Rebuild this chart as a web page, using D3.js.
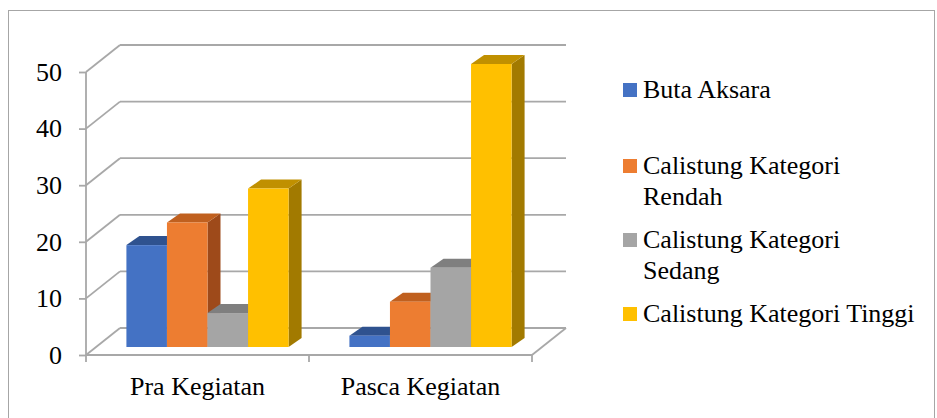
<!DOCTYPE html>
<html>
<head>
<meta charset="utf-8">
<script src="https://cdn.jsdelivr.net/npm/d3@7"></script>
</head>
<body style="margin:0">
<svg id="chart" width="937" height="418" style="display:block; font-family: 'Times New Roman';"></svg>
<script>
const categories = ["Pra Kegiatan", "Pasca Kegiatan"];
const seriesNames = ["Buta Aksara", "Calistung Kategori Rendah", "Calistung Kategori Sedang", "Calistung Kategori Tinggi"];
const legendLines = [["Buta Aksara"], ["Calistung Kategori", "Rendah"], ["Calistung Kategori", "Sedang"], ["Calistung Kategori Tinggi"]];
const praValues = [18, 22, 6, 28];
const pascaValues = [2, 8, 14, 50];
const yTicks = [0, 10, 20, 30, 40, 50];

const colors = ["#4472C4", "#ED7D31", "#A5A5A5", "#FFC000"];
const topColors = ["#2F528F", "#C0601F", "#7F7F7F", "#C09000"];
const sideColors = ["#2A4A80", "#9E4A1A", "#707070", "#A27A00"];

const values = [praValues, pascaValues];
const FONT = '"Times New Roman"';
const FS = 26;

const svg = d3.select("#chart");

// outer frame
svg.append("rect")
    .attr("x", 8.5).attr("y", 10.5)
    .attr("width", 926).attr("height", 420)
    .attr("fill", "none").attr("stroke", "#A6A6A6");

const x = d3.scaleBand().domain(categories).range([86, 532]);
const xSub = d3.scaleBand().domain(seriesNames).range([0, x.bandwidth()]).paddingOuter(0.75);
const y = d3.scaleLinear().domain([0, 50]).range([355, 72]);

// wall depth and bar depth offsets
const wallDx = 34, wallDy = -27;
const barOffX = 10, barOffY = -8;
const barDx = 13, barDy = -9;

const grid = "#A8A8A8";
const g = svg.append("g");

// back wall gridlines + left wall diagonals
yTicks.forEach(t => {
    g.append("line")
        .attr("x1", 86 + wallDx).attr("x2", 532 + wallDx)
        .attr("y1", y(t) + wallDy).attr("y2", y(t) + wallDy)
        .attr("stroke", grid).attr("stroke-width", 1.8);
    g.append("line")
        .attr("x1", 86).attr("y1", y(t))
        .attr("x2", 86 + wallDx).attr("y2", y(t) + wallDy)
        .attr("stroke", grid).attr("stroke-width", 1.8);
});

// floor front edge and right edge
g.append("line").attr("x1", 86).attr("x2", 532).attr("y1", y(0)).attr("y2", y(0))
    .attr("stroke", grid).attr("stroke-width", 1.8);
g.append("line").attr("x1", 532).attr("y1", y(0)).attr("x2", 532 + wallDx).attr("y2", y(0) + wallDy)
    .attr("stroke", grid).attr("stroke-width", 1.8);

// front vertical axis line
g.append("line").attr("x1", 86).attr("x2", 86).attr("y1", y(50)).attr("y2", y(0))
    .attr("stroke", grid).attr("stroke-width", 1.8);

// y axis ticks and labels
const yAxis = svg.append("g").attr("transform", "translate(86,0)")
    .call(d3.axisLeft(y).tickValues(yTicks).tickSize(7).tickPadding(17));
yAxis.attr("font-family", null).attr("font-size", null);
yAxis.select(".domain").remove();
yAxis.selectAll(".tick line").attr("stroke", grid).attr("stroke-width", 1.8);
yAxis.selectAll(".tick text")
    .style("font-family", FONT).style("font-size", FS + "px").attr("fill", "#000");

// category ticks
const xTickPos = [86, 86 + x.step(), 532];
xTickPos.forEach(px => {
    g.append("line").attr("x1", px).attr("x2", px).attr("y1", y(0)).attr("y2", y(0) + 7)
        .attr("stroke", grid).attr("stroke-width", 1.8);
});

// category labels
svg.selectAll(".cat").data(categories).enter().append("text")
    .attr("x", d => x(d) + x.bandwidth() / 2)
    .attr("y", 395)
    .attr("text-anchor", "middle")
    .style("font-family", FONT).style("font-size", FS + "px").attr("fill", "#000")
    .text(d => d);

// bars
const bars = svg.append("g");
categories.forEach((cat, ci) => {
    seriesNames.forEach((s, si) => {
        const v = values[ci][si];
        const x0 = x(cat) + xSub(s) + barOffX;
        const x1 = x0 + xSub.bandwidth();
        const yb = y(0) + barOffY;
        const yt = y(v) + barOffY;
        // side face
        bars.append("path")
            .attr("d", `M${x1},${yb} L${x1 + barDx},${yb + barDy} L${x1 + barDx},${yt + barDy} L${x1},${yt} Z`)
            .attr("fill", sideColors[si]);
        // top face
        bars.append("path")
            .attr("d", `M${x0},${yt} L${x0 + barDx},${yt + barDy} L${x1 + barDx},${yt + barDy} L${x1},${yt} Z`)
            .attr("fill", topColors[si]);
        // front face
        bars.append("rect")
            .attr("x", x0).attr("y", yt)
            .attr("width", xSub.bandwidth()).attr("height", yb - yt)
            .attr("fill", colors[si]);
    });
});

// legend
const legendSwatchY = [83, 159, 233, 307];
const legend = svg.append("g");
seriesNames.forEach((s, i) => {
    legend.append("rect")
        .attr("x", 623).attr("y", legendSwatchY[i])
        .attr("width", 14).attr("height", 14)
        .attr("fill", colors[i]);
    const txt = legend.append("text")
        .attr("x", 643).attr("y", legendSwatchY[i] + 15)
        .style("font-family", FONT).style("font-size", FS + "px").attr("fill", "#000");
    legendLines[i].forEach((line, li) => {
        txt.append("tspan").attr("x", 643).attr("dy", li === 0 ? 0 : 30.5).text(line);
    });
});
</script>
</body>
</html>
